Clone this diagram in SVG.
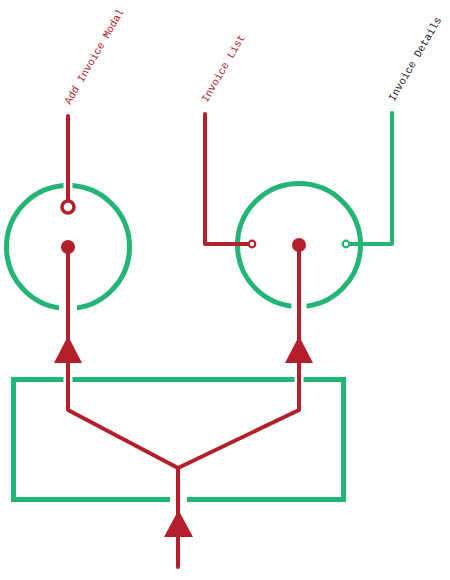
<svg xmlns="http://www.w3.org/2000/svg" width="450" height="580" viewBox="0 0 450 580">
<style>
.g{fill:none;stroke:#23b573;stroke-width:5}
.r{fill:none;stroke:#b3202b;stroke-width:4;stroke-linecap:round;stroke-linejoin:round}
.gl{fill:none;stroke:#23b573;stroke-width:4;stroke-linecap:round;stroke-linejoin:round}
.h{stroke:#fff;fill:none}
.t{font-family:"Liberation Mono","DejaVu Sans Mono",monospace;font-size:10.6px}
.arr{fill:#b3202b}
</style>
<rect width="450" height="580" fill="#fff"/>
<g id="left-node">
<circle class="g" cx="68" cy="247" r="61.5"/>
</g>
<g id="right-node">
<circle class="g" cx="299" cy="245" r="61.5"/>
</g>
<g id="container">
<rect class="g" x="13.5" y="379.5" width="330" height="120"/>
</g>
<g id="gaps">
<line class="h" x1="68" y1="180" x2="68" y2="192" stroke-width="9"/>
<line class="h" x1="68" y1="300" x2="68" y2="316" stroke-width="18"/>
<line class="h" x1="299" y1="298" x2="299" y2="314" stroke-width="15"/>
<line class="h" x1="68" y1="374" x2="68" y2="385" stroke-width="9"/>
<line class="h" x1="299" y1="374" x2="299" y2="385" stroke-width="9"/>
<line class="h" x1="178.5" y1="494" x2="178.5" y2="506" stroke-width="17"/>
</g>
<g id="connectors">
<line class="r" x1="68" y1="116" x2="68" y2="200"/>
<circle cx="68" cy="207" r="6" fill="#fff" stroke="#b3202b" stroke-width="3.5"/>
<circle cx="68" cy="247" r="7" fill="#b3202b"/>
<polyline class="r" points="68,247 68,410 178,468 178,567"/>
<polyline class="r" points="299,245 299,410 178,468"/>
<circle cx="299" cy="245" r="7" fill="#b3202b"/>
<polygon class="arr" points="68,336 54,363 82,363"/>
<polygon class="arr" points="299,336 285,363 313,363"/>
<polygon class="arr" points="178.5,510 164,537 193,537"/>
<polyline class="r" points="205,114 205,244 249,244"/>
<circle cx="252" cy="244" r="3.3" fill="#fff" stroke="#b3202b" stroke-width="2.2"/>
<polyline class="gl" points="392,113 392,244 349,244"/>
<circle cx="346" cy="244" r="3.3" fill="#fff" stroke="#23b573" stroke-width="2.2"/>
</g>
<g id="labels">
<text class="t" fill="#b3202b" transform="translate(70,105) rotate(-60)">Add Invoice Modal</text>
<text class="t" fill="#b3202b" transform="translate(207,103) rotate(-60)">Invoice List</text>
<text class="t" fill="#222" transform="translate(394,102) rotate(-60)">Invoice Details</text>
</g>
</svg>
